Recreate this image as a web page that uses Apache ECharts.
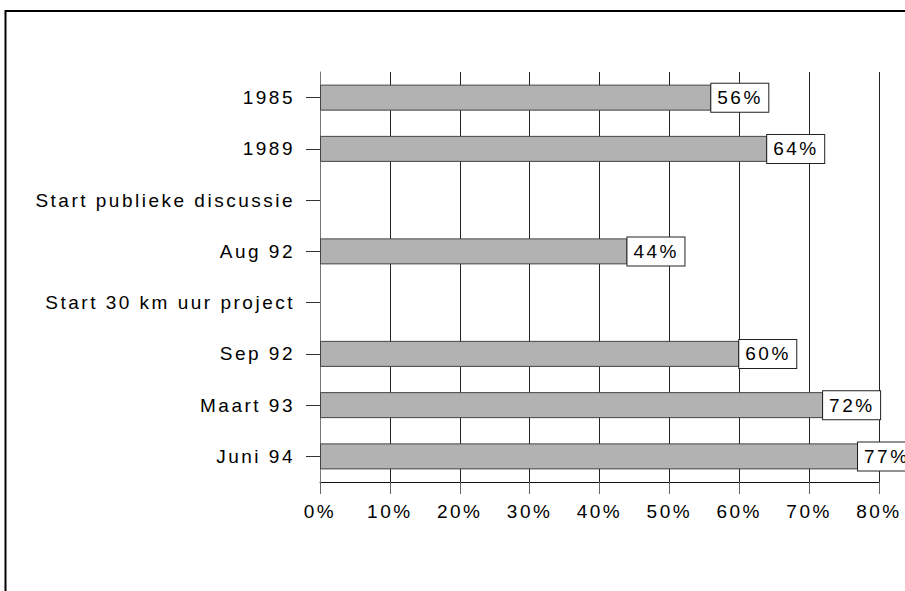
<!DOCTYPE html>
<html>
<head>
<meta charset="utf-8">
<script src="https://cdn.jsdelivr.net/npm/echarts@6/dist/echarts.min.js"></script>
<style>
  html, body { margin: 0; padding: 0; background: #fff; }
  #chart { width: 905px; height: 591px; }
  #chart text { letter-spacing: 2.5px; }
</style>
</head>
<body>
<div id="chart"></div>
<script>
const categories = ['1985', '1989', 'Start publieke discussie', 'Aug 92', 'Start 30 km uur project', 'Sep 92', 'Maart 93', 'Juni 94'];
const values = [56, 64, null, 44, null, 60, 72, 77];
const xTicks = { min: 0, max: 80, interval: 10 };

const chart = echarts.init(document.getElementById('chart'), null, { renderer: 'svg' });
const font = 'Liberation Sans, Arial, sans-serif';
chart.setOption({
  animation: false,
  backgroundColor: '#fff',
  graphic: [{
    type: 'rect',
    shape: { x: 5.5, y: 11, width: 1000, height: 1000 },
    style: { fill: 'none', stroke: '#000', lineWidth: 2 },
    silent: true
  }],
  grid: { left: 320, right: 26, top: 72, bottom: 109 },
  xAxis: {
    type: 'value',
    min: xTicks.min, max: xTicks.max, interval: xTicks.interval,
    axisLine: { show: true, lineStyle: { color: '#111', width: 1 } },
    axisTick: { show: true, length: 12, lineStyle: { color: '#666' } },
    splitLine: { show: true, lineStyle: { color: '#222', width: 1 } },
    axisLabel: { formatter: '{value}%', margin: 20, fontFamily: font, fontSize: 19, color: '#000' }
  },
  yAxis: {
    type: 'category',
    inverse: true,
    data: categories,
    axisLine: { show: true, lineStyle: { color: '#777', width: 1 } },
    axisTick: { show: true, alignWithLabel: true, length: 14, lineStyle: { color: '#333' } },
    axisLabel: { margin: 25, fontFamily: font, fontSize: 19, color: '#000' },
    splitLine: { show: false }
  },
  series: [{
    type: 'bar',
    data: values,
    barWidth: 26,
    itemStyle: { color: '#b2b2b2', borderColor: '#444', borderWidth: 1 },
    label: {
      show: true,
      position: 'right',
      distance: 0,
      formatter: p => p.value + '%',
      fontFamily: font,
      fontSize: 19,
      lineHeight: 19,
      color: '#000',
      align: 'left',
      width: 47,
      backgroundColor: '#fff',
      borderColor: '#222',
      borderWidth: 1,
      padding: [5, 4, 4, 6]
    }
  }]
});
</script>
</body>
</html>
